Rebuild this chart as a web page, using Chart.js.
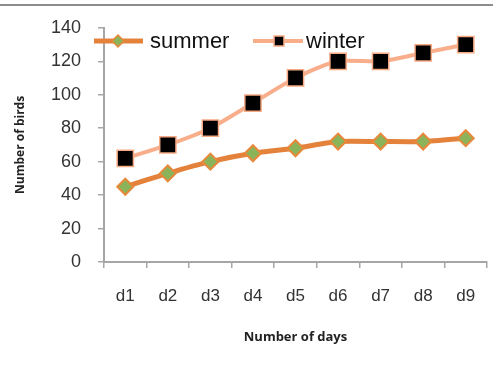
<!DOCTYPE html>
<html lang="en">

<head>
    <meta charset="UTF-8">
    <title>Number of birds</title>
    <script src="https://cdn.jsdelivr.net/npm/chart.js@4.4.0/dist/chart.umd.min.js"></script>
    <style>
        html, body { margin: 0; padding: 0; background: #fff; overflow: hidden; }
        .linhaTopo { position: absolute; left: 0; top: 4px; width: 493px; height: 2px; background: #8c8c8c; }
        .boxGraph { position: absolute; left: 0; top: 0; width: 500px; height: 391px; }
    </style>
</head>

<body>
    <div class="linhaTopo"></div>
    <div class="boxGraph"><canvas id="myChart" width="500" height="391"></canvas></div>

<script>
    // dados
    const dias = ['d1', 'd2', 'd3', 'd4', 'd5', 'd6', 'd7', 'd8', 'd9'];
    const summer = [45, 53, 60, 65, 68, 72, 72, 72, 74];
    const winter = [62, 70, 80, 95, 110, 120, 120, 125, 130];
    const yMin = 0;
    const yMax = 140;
    const yStep = 20;

    const corSummer = '#E4813A';
    const corWinter = '#F8AE8B';

    // legenda desenhada por cima do grafico, como no original
    const legendaPlugin = {
        id: 'legendaPlugin',
        afterDatasetsDraw(chart) {
            const ctx = chart.ctx;
            const itens = [
                { x1: 94, x2: 143, mx: 118, tx: 150, ds: 0, estilo: 'rectRot', raio: 6 },
                { x1: 253, x2: 303, mx: 279, tx: 306, ds: 1, estilo: 'rect', raio: 7 }
            ];
            const y = 41;
            itens.forEach(function (it) {
                const ds = chart.data.datasets[it.ds];
                ctx.save();
                ctx.strokeStyle = ds.borderColor;
                ctx.lineWidth = ds.borderWidth;
                ctx.beginPath();
                ctx.moveTo(it.x1, y);
                ctx.lineTo(it.x2, y);
                ctx.stroke();
                ctx.fillStyle = ds.pointBackgroundColor;
                ctx.strokeStyle = ds.pointBorderColor;
                ctx.lineWidth = 1.5;
                Chart.helpers.drawPoint(ctx, { pointStyle: it.estilo, radius: it.raio, borderWidth: 1.5, rotation: 0 }, it.mx, y);
                ctx.fillStyle = '#111';
                ctx.font = '22px "Liberation Sans", Arial, sans-serif';
                ctx.textBaseline = 'middle';
                ctx.fillText(ds.label, it.tx, y + 1);
                ctx.restore();
            });
        }
    };

    const dados = {
        labels: dias,
        datasets: [{
            label: 'summer',
            data: summer,
            borderColor: corSummer,
            borderWidth: 5,
            tension: 0.2,
            pointStyle: 'rectRot',
            pointRadius: 8,
            pointBackgroundColor: '#8BB35A',
            pointBorderColor: '#E8883A',
            pointBorderWidth: 2
        }, {
            label: 'winter',
            data: winter,
            borderColor: corWinter,
            borderWidth: 4,
            tension: 0.25,
            pointStyle: 'rect',
            pointRadius: 11.5,
            pointBackgroundColor: '#000000',
            pointBorderColor: '#F7A983',
            pointBorderWidth: 1.5
        }]
    };

    const config = {
        type: 'line',
        data: dados,
        options: {
            responsive: false,
            animation: false,
            layout: { padding: { top: 19, right: 0, bottom: 0, left: 0 } },
            plugins: {
                legend: { display: false },
                tooltip: { enabled: false }
            },
            scales: {
                x: {
                    offset: true,
                    grid: { offset: true, drawOnChartArea: false, drawTicks: true, tickLength: 6, color: '#a6a6a6', lineWidth: 1.5 },
                    border: { display: true, color: '#a6a6a6', width: 2 },
                    ticks: { color: '#333', padding: 18, font: { family: '"Liberation Sans", Arial', size: 17 } },
                    title: {
                        display: true,
                        text: 'Number of days',
                        color: '#222',
                        font: { family: '"Open Sans"', size: 13, weight: 'bold' },
                        padding: { top: 0, bottom: 46 }
                    },
                    afterFit(scale) { scale.height = 129; }
                },
                y: {
                    min: yMin,
                    max: yMax,
                    grid: { drawOnChartArea: false, drawTicks: true, tickLength: 6, color: '#a6a6a6', lineWidth: 1.5 },
                    border: { display: true, color: '#a6a6a6', width: 2 },
                    ticks: { stepSize: yStep, color: '#333', padding: 17, font: { family: '"Liberation Sans", Arial', size: 18 } },
                    title: {
                        display: true,
                        text: 'Number of birds',
                        color: '#222',
                        font: { family: '"Open Sans"', size: 12, weight: 'bold' },
                        padding: { top: 13, bottom: 0 }
                    },
                    afterFit(scale) { scale.width = 104; }
                }
            }
        },
        plugins: [legendaPlugin]
    };

    let myChart = new Chart(document.getElementById('myChart'), config);
</script>
</body>

</html>
